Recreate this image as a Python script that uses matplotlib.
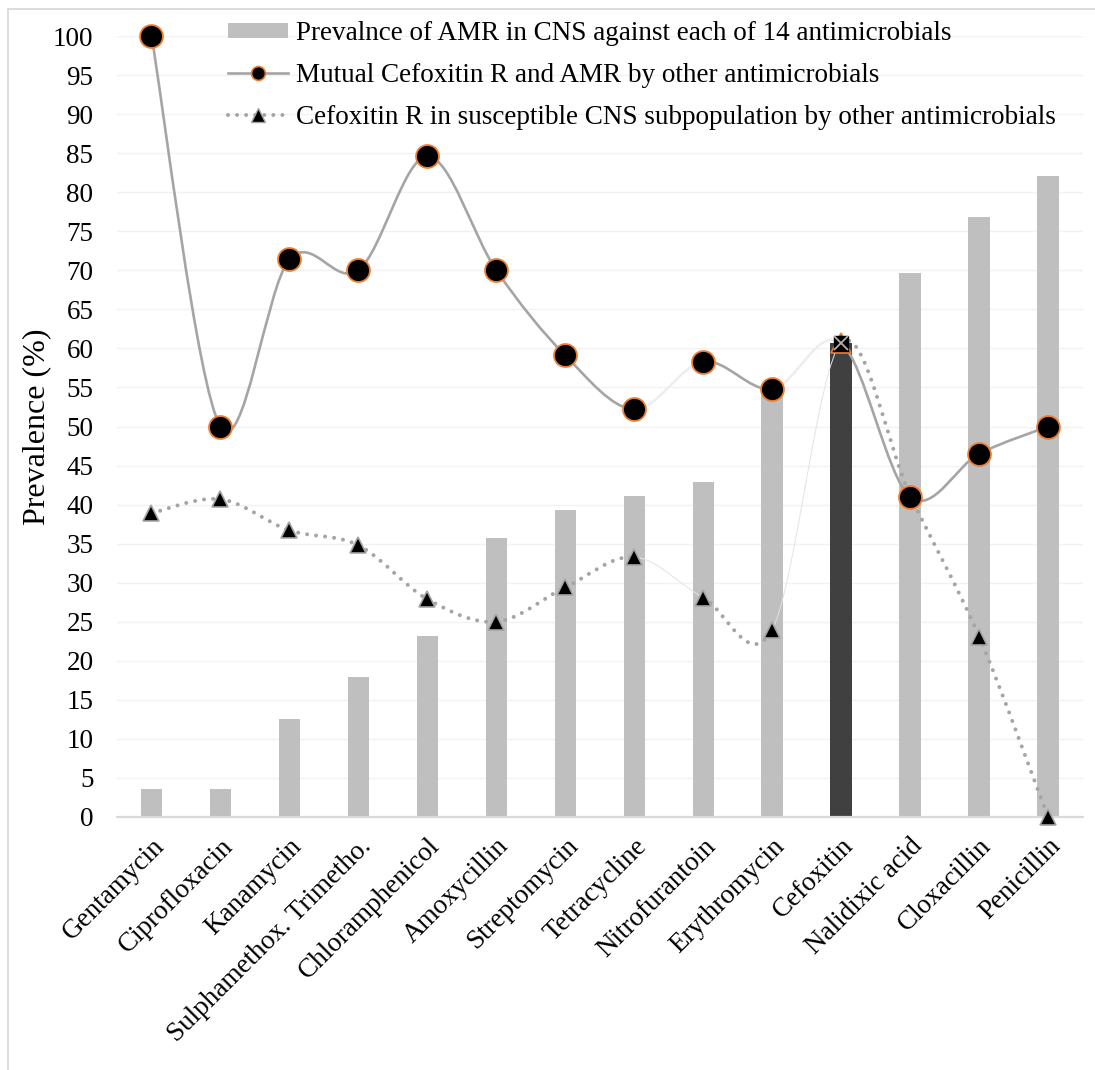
import matplotlib.pyplot as plt
import numpy as np
from matplotlib.path import Path
from matplotlib.patches import PathPatch, Patch, Rectangle
from matplotlib.lines import Line2D

plt.rcParams['font.family'] = ['Liberation Serif', 'DejaVu Serif']

categories = ['Gentamycin', 'Ciprofloxacin', 'Kanamycin', 'Sulphamethox. Trimetho.',
              'Chloramphenicol', 'Amoxycillin', 'Streptomycin', 'Tetracycline',
              'Nitrofurantoin', 'Erythromycin', 'Cefoxitin', 'Nalidixic acid',
              'Cloxacillin', 'Penicillin']
amr_prevalence = [3.6, 3.6, 12.5, 17.9, 23.2, 35.7, 39.3, 41.1, 42.9, 55.4, 60.7, 69.6, 76.8, 82.1]
mutual_cefoxitin = [100.0, 50.0, 71.4, 70.0, 84.6, 70.0, 59.1, 52.2, 58.3, 54.8, 60.7, 41.0, 46.5, 50.0]
cefoxitin_susceptible = [38.9, 40.7, 36.7, 34.8, 27.9, 25.0, 29.4, 33.3, 28.1, 24.0, 60.7, 41.2, 23.1, 0.0]
cefoxitin_idx = categories.index('Cefoxitin')

# segments drawn faded (start index of segment)
faded = {7, 9}

GREY_LINE = '#a5a5a5'
ORANGE = '#ed7d31'
FS = 19.5


def smooth_segment(xs, ys, i):
    """Cubic Bezier control points for segment i -> i+1 (Catmull-Rom style smoothing)."""
    n = len(xs)
    p0 = np.array([xs[max(i - 1, 0)], ys[max(i - 1, 0)]])
    p1 = np.array([xs[i], ys[i]])
    p2 = np.array([xs[i + 1], ys[i + 1]])
    p3 = np.array([xs[min(i + 2, n - 1)], ys[min(i + 2, n - 1)]])
    c1 = p1 + (p2 - p0) / 6
    c2 = p2 - (p3 - p1) / 6
    return Path([p1, c1, c2, p2], [Path.MOVETO, Path.CURVE4, Path.CURVE4, Path.CURVE4])


def draw_smooth(ax, xs, ys, style, faded_style):
    for i in range(len(xs) - 1):
        kw = faded_style if i in faded else style
        ax.add_patch(PathPatch(smooth_segment(xs, ys, i), fill=False, zorder=3, **kw))


fig = plt.figure(figsize=(10.95, 10.70), dpi=100)
ax = fig.add_axes([117 / 1095, 1 - 817 / 1070, (1082.5 - 117) / 1095, (817 - 36) / 1070])

x = np.arange(len(categories))
bar_colors = ['#bfbfbf'] * len(categories)
bar_colors[cefoxitin_idx] = '#404040'
ax.bar(x, amr_prevalence, width=0.31, color=bar_colors, zorder=2)

draw_smooth(ax, x, mutual_cefoxitin,
            dict(edgecolor=GREY_LINE, linewidth=1.9, capstyle='round'),
            dict(edgecolor='#eeeeee', linewidth=1.9, capstyle='round'))
draw_smooth(ax, x, cefoxitin_susceptible,
            dict(edgecolor=GREY_LINE, linewidth=2.9, linestyle=(0, (0.001, 2.25)), capstyle='round'),
            dict(edgecolor='#e3e3e3', linewidth=0.7))

others = [i for i in range(len(categories)) if i != cefoxitin_idx]
ax.plot(x[others], np.array(cefoxitin_susceptible)[others], linestyle='none', marker='^',
        markersize=12, markerfacecolor='black', markeredgecolor=GREY_LINE,
        markeredgewidth=1.2, zorder=5, clip_on=False)
ax.plot(x[others], np.array(mutual_cefoxitin)[others], linestyle='none', marker='o',
        markersize=16.5, markerfacecolor='black', markeredgecolor=ORANGE,
        markeredgewidth=1.3, zorder=6, clip_on=False)

# Cefoxitin itself: overlapping markers of both series
cx, cy = x[cefoxitin_idx], mutual_cefoxitin[cefoxitin_idx]
ax.plot(cx, cefoxitin_susceptible[cefoxitin_idx], marker='^', markersize=15,
        markerfacecolor='black', markeredgecolor=ORANGE, markeredgewidth=1.2, zorder=6)
ax.plot(cx, cy, marker='s', markersize=10, markerfacecolor='black',
        markeredgecolor='black', zorder=7)
ax.plot(cx, cy, marker='x', markersize=10, markeredgecolor='#b0b0b0',
        markeredgewidth=1.3, zorder=8)

ax.set_xlim(-0.5, len(categories) - 0.5)
ax.set_ylim(0, 100)
ax.set_yticks(np.arange(0, 101, 5))
ax.set_xticks(x)
ax.set_xticklabels(categories, rotation=45, ha='right', va='top', rotation_mode='anchor')
ax.tick_params(axis='y', length=0, pad=17, labelsize=FS)
ax.tick_params(axis='x', length=0, pad=12, labelsize=FS)
ax.grid(axis='y', color='#f2f2f2', linewidth=1, zorder=0)
ax.set_axisbelow(True)
for side in ['left', 'right', 'top']:
    ax.spines[side].set_visible(False)
ax.spines['bottom'].set_color('#d9d9d9')
ax.spines['bottom'].set_linewidth(1.6)
ax.spines['bottom'].set_zorder(4)
ax.set_ylabel('Prevalence (%)', fontsize=23, labelpad=1)

handles = [
    Patch(facecolor='#bfbfbf', edgecolor='none'),
    Line2D([], [], color=GREY_LINE, linewidth=1.9, marker='o', markersize=10,
           markerfacecolor='black', markeredgecolor=ORANGE, markeredgewidth=1.2),
    Line2D([], [], color=GREY_LINE, linewidth=2.9, linestyle=(0, (0.001, 2.25)),
           dash_capstyle='round', marker='^', markersize=10,
           markerfacecolor='black', markeredgecolor=GREY_LINE),
]
labels = ['Prevalnce of AMR in CNS against each of 14 antimicrobials',
          'Mutual Cefoxitin R and AMR by other antimicrobials',
          'Cefoxitin R in susceptible CNS subpopulation by other antimicrobials']
fig.legend(handles, labels, loc='upper left', bbox_to_anchor=(228 / 1095, 1 - 21 / 1070),
           frameon=False, fontsize=FS, borderpad=0, borderaxespad=0,
           handlelength=2.2, handleheight=0.52, handletextpad=0.3, labelspacing=0.63)

# chart area border
fig.patches.append(Rectangle((8 / 1095, -0.1), 1.2, 1 - 9 / 1070 + 0.1,
                             transform=fig.transFigure, fill=False,
                             edgecolor='#d9d9d9', linewidth=1.3))

fig.savefig('out.png', dpi=100)
